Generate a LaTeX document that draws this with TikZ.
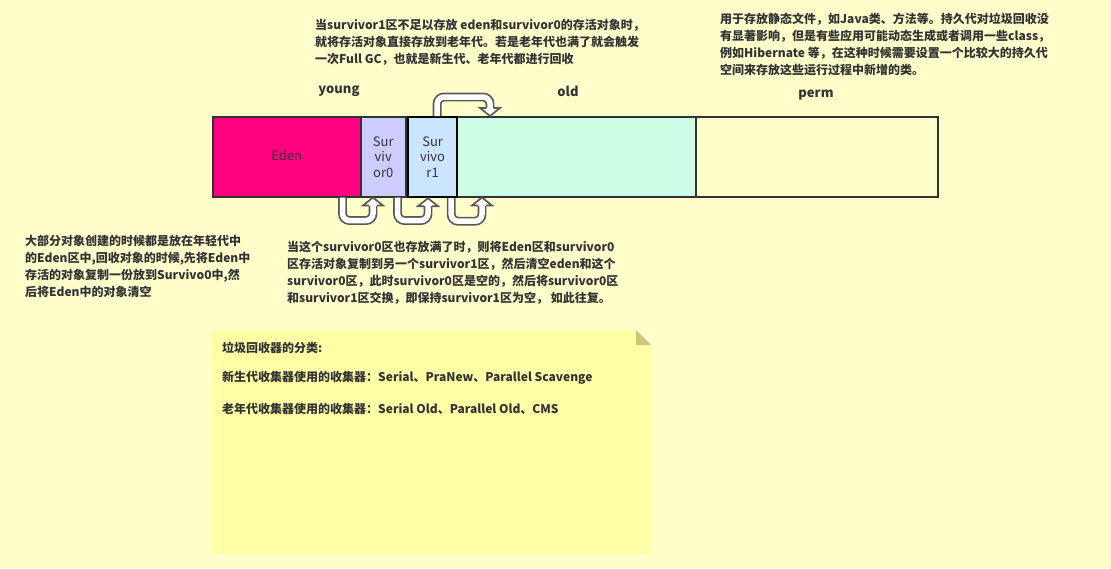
\documentclass[tikz,border=0pt]{standalone}
\usepackage{fontspec}
\setmainfont{Noto Sans CJK SC}
\usetikzlibrary{arrows.meta}
\definecolor{paper}{HTML}{FFFFCC}
\definecolor{edenpink}{HTML}{FF0080}
\definecolor{survzero}{HTML}{CCCCFF}
\definecolor{survone}{HTML}{CCE5FF}
\definecolor{oldgreen}{HTML}{CCFFE6}
\definecolor{notey}{HTML}{FFFFA6}
\definecolor{fold}{HTML}{C8C878}
\definecolor{ink}{HTML}{333333}

\begin{document}
\begin{tikzpicture}[x=1pt,y=-1pt,font=\fontsize{12}{17}\selectfont\bfseries,text=ink,
    area/.style={draw=ink,line width=1.5pt,minimum height=80pt,inner sep=0pt,anchor=north west,
      align=center,font=\fontsize{13}{15.5}\selectfont\mdseries},
    gen/.style={font=\fontsize{13}{15}\selectfont\bfseries},
    remark/.style={anchor=north west,inner sep=0pt,align=left},
    uarrow/.style={double=white,double distance=5.5pt,line width=1.7pt,draw=black!65,rounded corners=7pt},
    head/.style={fill=white,draw=black!65,line width=1.7pt,line join=miter}]
  \useasboundingbox[fill=paper] (0,0) rectangle (1111,568);
  % heap areas
  \node[area,fill=edenpink,minimum width=148pt] (eden) at (212,116) {\raisebox{2pt}{Eden}};
  \node[area,fill=survzero,minimum width=45pt] (s0) at (360,116) {Sur\\viv\\or0};
  \node[area,fill=oldgreen,minimum width=239pt] (old) at (456,116) {};
  \node[area,fill=paper,minimum width=242pt] (perm) at (695,116) {};
  \node[area,fill=survone,draw=black,line width=2.2pt,minimum width=49pt] (s1) at (407,116) {Sur\\vivo\\r1};
  \node[gen] (young) at (339,91) {young};
  \node[gen] (oldlbl) at (568,91) {old};
  \node[gen] (permlbl) at (816,95) {perm};
  % copy arrows
  \draw[uarrow] ([xshift=-19pt]eden.south east) -- ++(0,23) -| ([xshift=13pt,yshift=-8pt]s0.south west);
  \filldraw[head] ([xshift=9pt,yshift=-8pt]s0.south west) -- ++(-6,0) -- ++(10,-8) -- ++(10,8) -- ++(-6,0);
  \draw[uarrow] ([xshift=-9pt]s0.south east) -- ++(0,23) -| ([xshift=21pt,yshift=-8pt]s1.south west);
  \filldraw[head] ([xshift=17pt,yshift=-8pt]s1.south west) -- ++(-6,0) -- ++(10,-8) -- ++(10,8) -- ++(-6,0);
  \draw[uarrow] ([xshift=-7pt]s1.south east) -- ++(0,23) -| ([xshift=26pt,yshift=-8pt]old.south west);
  \filldraw[head] ([xshift=22pt,yshift=-8pt]old.south west) -- ++(-6,0) -- ++(10,-8) -- ++(10,8) -- ++(-6,0);
  \draw[uarrow] ([xshift=4.5pt]s1.north) -- ++(0,-19) -| ([xshift=34pt,yshift=8pt]old.north west);
  \filldraw[head] ([xshift=30pt,yshift=8pt]old.north west) -- ++(-6,0) -- ++(10,8) -- ++(10,-8) -- ++(-6,0);
  % remarks
  \node[remark] (toold) at (315,19) {当survivor1区不足以存放 eden和survivor0的存活对象时，\\
    就将存活对象直接存放到老年代。若是老年代也满了就会触发\\一次Full GC，也就是新生代、老年代都进行回收};
  \node[remark] (topperm) at (720,13) {用于存放静态文件，如Java类、方法等。持久代对垃圾回收没\\
    有显著影响，但是有些应用可能动态生成或者调用一些class，\\
    例如Hibernate 等，在这种时候需要设置一个比较大的持久代\\空间来存放这些运行过程中新增的类。};
  \node[remark] (toeden) at (25,235) {大部分对象创建的时候都是放在年轻代中\\的Eden区中,回收对象的时候,先将Eden中\\
    存活的对象复制一份放到Survivo0中,然\\后将Eden中的对象清空};
  \node[remark] (tosurv) at (287,241) {当这个survivor0区也存放满了时，则将Eden区和survivor0\\
    区存活对象复制到另一个survivor1区，然后清空eden和这个\\
    survivor0区，此时survivor0区是空的，然后将survivor0区\\
    和survivor1区交换，即保持survivor1区为空， 如此往复。};
  % note
  \fill[notey] (212,330) -- (636,330) -- (651,345) -- (651,554) -- (212,554) -- cycle;
  \fill[fold] (636,330) -- (651,345) -- (636,345) -- cycle;
  \node[anchor=west,inner sep=0pt] (kinds) at (222,348) {垃圾回收器的分类:};
  \node[anchor=west,inner sep=0pt] (newgc) at (222,378) {新生代收集器使用的收集器：Serial、PraNew、Parallel Scavenge};
  \node[anchor=west,inner sep=0pt] (oldgc) at (222,409) {老年代收集器使用的收集器：Serial Old、Parallel Old、CMS};
\end{tikzpicture}
\end{document}
